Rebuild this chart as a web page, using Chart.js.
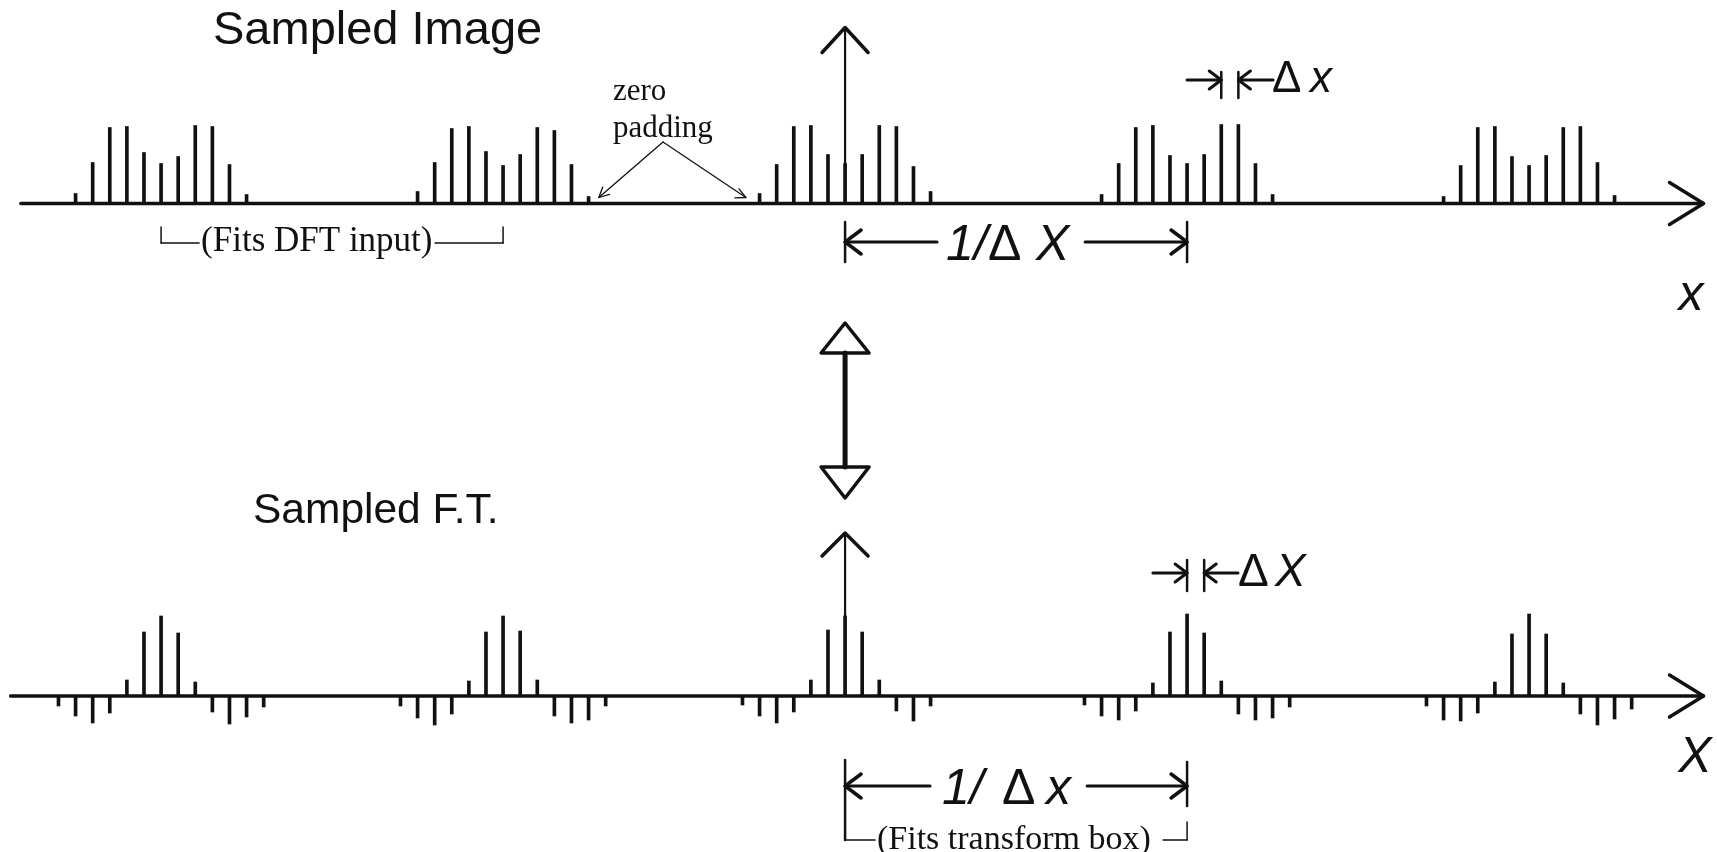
<!DOCTYPE html>
<html>
<head>
<meta charset="utf-8">
<script src="https://cdn.jsdelivr.net/npm/chart.js@4.4.1/dist/chart.umd.min.js"></script>
<style>
html,body{margin:0;background:#fff}
#wrap{width:1717px;height:852px;position:relative}
</style>
</head>
<body>
<div id="wrap"><canvas id="chart"></canvas></div>
<script>
// sample positions: one period = 20 samples, replicas centred at these indices
const groupCenters=[-40,-20,0,20,40];

// sampled image: 11 samples per replica (offsets -5..5), rest is zero padding
const imageOffsets=[-5,-4,-3,-2,-1,0,1,2,3,4,5];
const imageG1=[10,41,76,77,51,40,47,78,77,39,9];
const imageG2=[12,41,75,77,52,38,49,76,73,39,7];
const imageG3=[10,39,77,78,49,40,49,78,77,37,12];
const imageG4=[9,40,76,78,48,40,49,79,79,40,9];
const imageG5=[7,38,76,77,47,38,48,76,77,41,8];

// sampled F.T.: offsets -6..6 around each replica
const ftOffsets=[-6,-5,-4,-3,-2,-1,0,1,2,3,4,5,6];
const ftG1=[-10,-20,-27,-17,16,64,80,63,14,-16,-28,-21,-11];
const ftG2=[-10,-22,-29,-18,15,64,80,65,16,-20,-27,-24,-10];
const ftG3=[-9,-20,-27,-16,16,66,80,64,16,-15,-25,-10,null];
const ftG4=[-9,-20,-24,-15,13,64,82,63,15,-18,-24,-22,-11];
const ftG5=[-10,-24,-25,-17,14,62,82,62,13,-18,-29,-23,-13];

const imageGroups=[imageG1,imageG2,imageG3,imageG4,imageG5];
const ftGroups=[ftG1,ftG2,ftG3,ftG4,ftG5];

function toPoints(groups,offsets){
  const pts=[];
  groups.forEach((vals,g)=>{
    vals.forEach((v,i)=>{
      if(v!==null) pts.push({x:groupCenters[g]+offsets[i],y:v});
    });
  });
  return pts;
}

const ink='#111';
const sans='"Liberation Sans", Arial, sans-serif';
const serif='"Liberation Serif", "Times New Roman", serif';

function seg(ctx,x1,y1,x2,y2,w){
  ctx.lineWidth=w;
  ctx.beginPath();ctx.moveTo(x1,y1);ctx.lineTo(x2,y2);ctx.stroke();
}
// open "V" arrow head, tip at (x,y), pointing along (dx,dy)
function head(ctx,x,y,dx,dy,len,half,w){
  const nx=-dy,ny=dx;
  ctx.lineWidth=w;
  ctx.beginPath();
  ctx.moveTo(x-dx*len+nx*half,y-dy*len+ny*half);
  ctx.lineTo(x,y);
  ctx.lineTo(x-dx*len-nx*half,y-dy*len-ny*half);
  ctx.stroke();
}
function txt(ctx,s,x,y,font,align){
  ctx.font=font;ctx.textAlign=align||'left';ctx.textBaseline='alphabetic';
  ctx.fillText(s,x,y);
}

const diagram={
  id:'diagram',
  afterDatasetsDraw(chart){
    const ctx=chart.ctx;
    const xs=chart.scales.x,yt=chart.scales.yTop,yb=chart.scales.yBot;
    const px=v=>xs.getPixelForValue(v);
    const y0t=yt.getPixelForValue(0),y0b=yb.getPixelForValue(0);
    ctx.save();
    ctx.strokeStyle=ink;ctx.fillStyle=ink;ctx.lineCap='round';ctx.lineJoin='round';

    // horizontal axes
    seg(ctx,px(-48.2),y0t,px(50.2),y0t,3.5);
    head(ctx,px(50.2),y0t,1,0,34,21,3.5);
    seg(ctx,px(-48.8),y0b,px(50.2),y0b,3.5);
    head(ctx,px(50.2),y0b,1,0,34,21,3.5);

    // vertical axes at the origin
    const ttop=yt.getPixelForValue(176);
    seg(ctx,px(0),y0t,px(0),ttop,2.2);
    head(ctx,px(0),ttop,0,-1,25,23,3.5);
    const btop=yb.getPixelForValue(163);
    seg(ctx,px(0),y0b,px(0),btop,2.2);
    head(ctx,px(0),btop,0,-1,23,23,3.5);

    // titles
    txt(ctx,'Sampled Image',213,44,'47px '+sans);
    txt(ctx,'Sampled F.T.',253,523,'42.5px '+sans);

    // axis names
    txt(ctx,'x',1691,310,'italic 50px '+sans,'center');
    txt(ctx,'X',1695,772,'italic 50px '+sans,'center');

    // zero padding note
    txt(ctx,'zero',613,100,'31px '+serif);
    txt(ctx,'padding',613,137,'31px '+serif);
    seg(ctx,663,142,px(-14.4),y0t-6,1.3);
    head(ctx,px(-14.4),y0t-6,-0.73,0.68,10,5,1.3);
    seg(ctx,663,142,px(-5.8),y0t-6,1.3);
    head(ctx,px(-5.8),y0t-6,0.9,0.42,10,5,1.3);

    // (Fits DFT input) bracket: one period
    const bl=px(-40),br=px(-20);
    seg(ctx,bl,227,bl,243,1.5);seg(ctx,bl,243,bl+38,243,1.5);
    seg(ctx,br,227,br,243,1.5);seg(ctx,br-68,243,br,243,1.5);
    txt(ctx,'(Fits DFT input)',bl+40,251,'35px '+serif);

    // 1/ΔX dimension (top)
    const d0=px(0),d1=px(20);
    seg(ctx,d0,222,d0,262,2.5);seg(ctx,d1,222,d1,262,2.5);
    seg(ctx,d0,242,d0+92,242,3);head(ctx,d0,242,-1,0,16,12,3.5);
    seg(ctx,d1-102,242,d1,242,3);head(ctx,d1,242,1,0,16,12,3.5);
    txt(ctx,'1/',946,260,'italic 50px '+sans);
    txt(ctx,'Δ',988,260,'50px '+sans);
    txt(ctx,'X',1036,260,'italic 50px '+sans);

    // Δx marker (top)
    const s0=px(22),s1=px(23);
    seg(ctx,s0,72,s0,98,2.5);seg(ctx,s1,72,s1,98,2.5);
    seg(ctx,px(20),80,s0,80,3);head(ctx,s0,80,1,0,12,9,3);
    seg(ctx,1273,80,s1,80,3);head(ctx,s1,80,-1,0,12,9,3);
    txt(ctx,'Δ',1272,92,'44px '+sans);
    txt(ctx,'x',1310,92,'italic 44px '+sans);

    // ΔX marker (bottom)
    const f0=px(20),f1=px(21);
    seg(ctx,f0,560,f0,591,2.5);seg(ctx,f1,560,f1,591,2.5);
    seg(ctx,px(18),573,f0,573,3);head(ctx,f0,573,1,0,12,9,3);
    seg(ctx,1238,573,f1,573,3);head(ctx,f1,573,-1,0,12,9,3);
    txt(ctx,'Δ',1238,586,'46px '+sans);
    txt(ctx,'X',1275,586,'italic 46px '+sans);

    // 1/Δx dimension (bottom) and (Fits transform box) bracket
    seg(ctx,d0,760,d0,840,2.5);seg(ctx,d1,762,d1,806,2.5);
    seg(ctx,d0,786,d0+85,786,3);head(ctx,d0,786,-1,0,16,12,3.5);
    seg(ctx,d1-100,786,d1,786,3);head(ctx,d1,786,1,0,16,12,3.5);
    txt(ctx,'1/',942,804,'italic 50px '+sans);
    txt(ctx,'Δ',1002,804,'50px '+sans);
    txt(ctx,'x',1046,804,'italic 50px '+sans);
    seg(ctx,d0,840,d0+30,840,1.5);
    seg(ctx,d1-24,840,d1,840,1.5);seg(ctx,d1,822,d1,840,1.5);
    txt(ctx,'(Fits transform box)',877,849,'34px '+serif);

    // double arrow between the two panels
    const cx=px(0);
    ctx.lineWidth=3.5;
    ctx.beginPath();ctx.moveTo(cx,323);ctx.lineTo(cx-24,353);ctx.lineTo(cx+24,353);ctx.closePath();ctx.stroke();
    ctx.beginPath();ctx.moveTo(cx,498);ctx.lineTo(cx-24,467);ctx.lineTo(cx+24,467);ctx.closePath();ctx.stroke();
    seg(ctx,cx,353,cx,467,5);

    ctx.restore();
  }
};

new Chart(document.getElementById('chart'),{
  type:'bar',
  data:{
    datasets:[
      {label:'Sampled Image',data:toPoints(imageGroups,imageOffsets),yAxisID:'yTop',
       backgroundColor:ink,barThickness:3,grouped:false},
      {label:'Sampled F.T.',data:toPoints(ftGroups,ftOffsets),yAxisID:'yBot',
       backgroundColor:ink,barThickness:3,grouped:false}
    ]
  },
  options:{
    responsive:true,
    maintainAspectRatio:false,
    animation:false,
    layout:{padding:0},
    plugins:{legend:{display:false},tooltip:{enabled:false}},
    scales:{
      x:{type:'linear',min:-49.42,max:50.99,offset:false,display:false},
      yTop:{type:'linear',position:'left',min:-648.5,max:203.5,display:false},
      yBot:{type:'linear',position:'left',min:-156,max:696,display:false}
    }
  },
  plugins:[diagram]
});
</script>
</body>
</html>
